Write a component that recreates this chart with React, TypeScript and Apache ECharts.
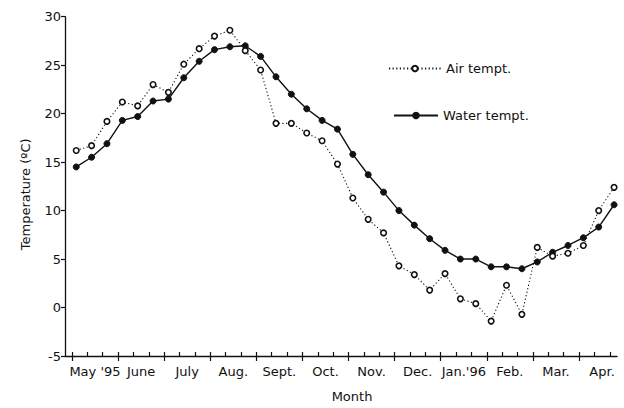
import React, { useEffect, useRef } from "react";
import * as echarts from "echarts";

const months = ["May '95", "June", "July", "Aug.", "Sept.", "Oct.", "Nov.", "Dec.", "Jan.'96", "Feb.", "Mar.", "Apr."];
const yTicks = [-5, 0, 5, 10, 15, 20, 25, 30];

// 36 ten-day samples, May 1995 to Apr 1996
const airTemp = [16.2, 16.7, 19.2, 21.2, 20.8, 23.0, 22.2, 25.1, 26.7, 28.0, 28.6, 26.5, 24.5, 19.0, 19.0, 18.0, 17.2, 14.8, 11.3, 9.1, 7.7, 4.3, 3.4, 1.8, 3.5, 0.9, 0.4, -1.4, 2.3, -0.7, 6.2, 5.3, 5.6, 6.4, 10.0, 12.4];
const waterTemp = [14.5, 15.5, 16.9, 19.3, 19.7, 21.3, 21.5, 23.7, 25.4, 26.6, 26.9, 27.0, 25.9, 23.8, 22.0, 20.5, 19.3, 18.4, 15.8, 13.7, 11.9, 10.0, 8.5, 7.1, 5.9, 5.0, 5.0, 4.2, 4.2, 4.0, 4.7, 5.7, 6.4, 7.2, 8.3, 10.6];

const FONT = "DejaVu Sans";
const INK = "#111";
const SAMPLE_OFFSET = 0.28; // sample position within its ten-day slot

export default function App() {
  const ref = useRef<HTMLDivElement>(null);
  useEffect(() => {
    if (!ref.current) return;
    const chart = echarts.init(ref.current, null, { renderer: "svg" });
    const slots = months.length * 3;
    const allTicks: number[] = [];
    for (let k = 0; k < slots; k++) allTicks.push(k);
    const majorTicks: number[] = [];
    for (let m = 0; m < months.length; m++) majorTicks.push(m * 3);
    const labelPos = months.map((_, m) => m * 3 + 1.5);
    const xMin = -0.45;
    const xMax = 35.47;
    const airData = airTemp.map((v, i) => [i + SAMPLE_OFFSET, v]);
    const waterData = waterTemp.map((v, i) => [i + SAMPLE_OFFSET, v]);

    chart.setOption({
      animation: false,
      backgroundColor: "#fff",
      textStyle: { fontFamily: FONT, color: INK },
      grid: { left: 65, right: 7, top: 16.7, bottom: 49 },
      legend: [
        {
          data: ["Air tempt."],
          left: 388,
          top: 62,
          padding: 0,
          itemWidth: 52,
          itemHeight: 7,
          textStyle: { fontFamily: FONT, fontSize: 13, color: INK },
        },
        {
          data: ["Water tempt."],
          left: 393,
          top: 109,
          padding: 0,
          itemWidth: 44,
          itemHeight: 7,
          textStyle: { fontFamily: FONT, fontSize: 13, color: INK },
        },
      ],
      xAxis: [
        {
          type: "value",
          min: xMin,
          max: xMax,
          name: "Month",
          nameLocation: "middle",
          nameGap: 34,
          nameTextStyle: { fontFamily: FONT, fontSize: 13, color: INK, padding: [0, 0, 0, 22] },
          axisLine: { show: true, onZero: false, lineStyle: { color: INK, width: 1.3 } },
          axisTick: { show: true, inside: true, length: 4, customValues: allTicks, lineStyle: { color: INK, width: 1.2 } },
          axisLabel: {
            show: true,
            customValues: labelPos,
            margin: 9,
            fontFamily: FONT,
            fontSize: 13,
            color: INK,
            formatter: (v: number) => months[Math.round((v - 1.5) / 3)] ?? "",
          },
          splitLine: { show: false },
        },
        {
          type: "value",
          position: "bottom",
          min: xMin,
          max: xMax,
          axisLine: { show: false, onZero: false },
          axisTick: { show: true, inside: false, length: 5, customValues: majorTicks, lineStyle: { color: INK, width: 1.2 } },
          axisLabel: { show: false },
          splitLine: { show: false },
        },
      ],
      yAxis: {
        type: "value",
        min: -5,
        max: 30,
        interval: 5,
        name: "Temperature (ºC)",
        nameLocation: "middle",
        nameGap: 33,
        nameTextStyle: { fontFamily: FONT, fontSize: 13, color: INK, padding: [0, 16, 0, 0] },
        axisLine: { show: true, onZero: false, lineStyle: { color: INK, width: 1.3 } },
        axisTick: { show: true, inside: false, length: 4, lineStyle: { color: INK, width: 1.2 } },
        axisLabel: {
          margin: 4,
          fontFamily: FONT,
          fontSize: 13,
          color: INK,
          formatter: (v: number) => (yTicks.includes(v) ? String(v) : ""),
        },
        splitLine: { show: false },
      },
      series: [
        {
          name: "Air tempt.",
          type: "line",
          data: airData,
          symbol: "circle",
          symbolSize: 5.5,
          lineStyle: { color: INK, width: 1.1, type: [1.2, 2.4] },
          itemStyle: { color: "#fff", borderColor: INK, borderWidth: 1.6 },
          z: 3,
        },
        {
          name: "Water tempt.",
          type: "line",
          data: waterData,
          symbol: "circle",
          symbolSize: 6,
          lineStyle: { color: INK, width: 1.4, type: "solid" },
          itemStyle: { color: INK, borderColor: INK, borderWidth: 1 },
          z: 2,
        },
      ],
    });
    return () => chart.dispose();
  }, []);
  return <div ref={ref} style={{ width: 624, height: 408, position: "absolute", left: 0, top: 0 }} />;
}
